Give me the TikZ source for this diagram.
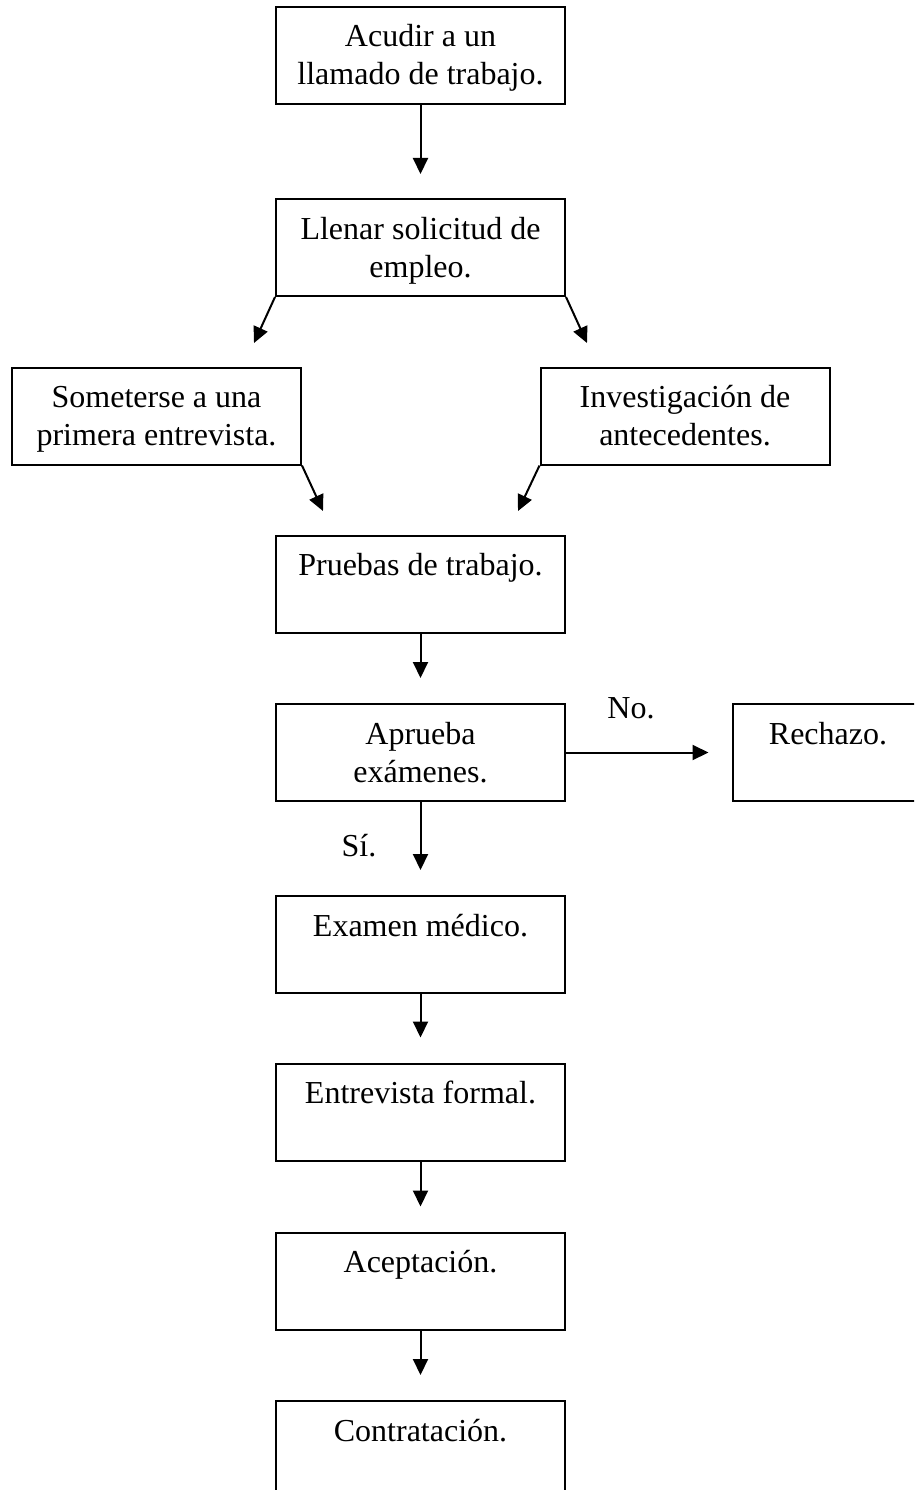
\documentclass[tikz,border=0pt]{standalone}
\usepackage{fontspec}
\setmainfont{Liberation Serif}
\usetikzlibrary{arrows.meta}
\newcommand{\boxtext}[2]{\parbox[c][97pt][t]{#1}{\centering\rule{0pt}{40pt}#2}}
\begin{document}
\begin{tikzpicture}[x=1pt,y=-1pt,
  font=\fontsize{32}{38}\selectfont,
  stepbox/.style={draw,line width=2pt,inner sep=0pt,rectangle},
  flow/.style={line width=2pt,-{Triangle[length=16pt,width=15pt]}},
  lbl/.style={inner sep=0pt,anchor=base}]
\useasboundingbox (0,0) rectangle (914,1490);
\clip (0,0) rectangle (914,1490);
\node[stepbox] (b1) at (420.5,55.5) {\boxtext{289pt}{Acudir a un\\llamado de trabajo.}};
\node[stepbox] (b2) at (420.5,247.5) {\boxtext{289pt}{Llenar solicitud de\\empleo.}};
\node[stepbox] (b3) at (156.5,416) {\boxtext{289pt}{Someterse a una\\primera entrevista.}};
\node[stepbox] (b4) at (685,416) {\boxtext{289pt}{Investigación de\\antecedentes.}};
\node[stepbox] (b5) at (420.5,584) {\boxtext{289pt}{Pruebas de trabajo.}};
\node[stepbox] (b6) at (420.5,752.5) {\boxtext{289pt}{Aprueba\\exámenes.}};
\node[stepbox] (rej) at (828,752.5) {\boxtext{190pt}{Rechazo.}};
\node[stepbox] (b8) at (420.5,944.5) {\boxtext{289pt}{Examen médico.}};
\node[stepbox] (b9) at (420.5,1112) {\boxtext{289pt}{Entrevista formal.}};
\node[stepbox] (b10) at (420.5,1281) {\boxtext{289pt}{Aceptación.}};
\node[stepbox] (b11) at (420.5,1449.5) {\boxtext{289pt}{Contratación.}};
\coordinate (t23) at (254,343);
\coordinate (t24) at (587,343);
\coordinate (t35) at (323,511);
\coordinate (t45) at (518,511);
\draw[flow,shorten >=24pt] (b1.south) -- (b2.north);
\draw[flow] (b2.south west) -- (t23);
\draw[flow] (b2.south east) -- (t24);
\draw[flow] (b3.south east) -- (t35);
\draw[flow] (b4.south west) -- (t45);
\draw[flow,shorten >=25pt] (b5.south) -- (b6.north);
\draw[flow,shorten >=25pt] (b6.south) -- (b8.north);
\draw[flow,shorten >=23.5pt] (b6.east) -- (rej.west);
\draw[flow,shorten >=25pt] (b8.south) -- (b9.north);
\draw[flow,shorten >=25pt] (b9.south) -- (b10.north);
\draw[flow,shorten >=25pt] (b10.south) -- (b11.north);
\node[lbl] (no) at (631,718) {No.};
\node[lbl] (si) at (359,856) {Sí.};
\end{tikzpicture}
\end{document}
